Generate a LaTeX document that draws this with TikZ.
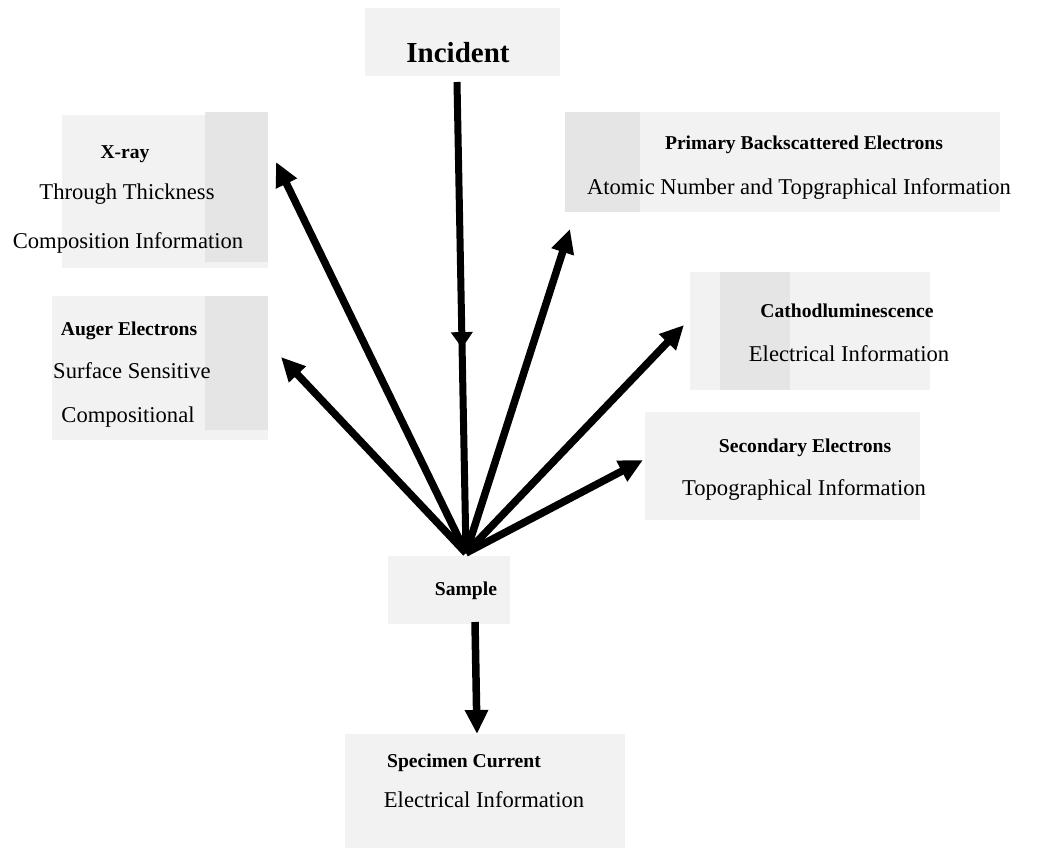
\documentclass[tikz,border=0pt]{standalone}
\usepackage{fontspec}
\setmainfont{Liberation Serif}
\usetikzlibrary{arrows.meta,decorations.markings}
\begin{document}
\begin{tikzpicture}[x=1pt,y=-1pt,
  big/.style={font=\fontsize{29}{32}\selectfont\bfseries, anchor=base, inner sep=0pt},
  head/.style={font=\fontsize{19.6}{22}\selectfont\bfseries, anchor=base, inner sep=0pt},
  txt/.style={font=\fontsize{22.6}{25}\selectfont, anchor=base, inner sep=0pt},
  patch/.style={fill=black!5, draw=none},
  dpatch/.style={fill=black!10, draw=none},
  ray/.style={line width=7.5pt, -{Triangle[length=24pt,width=22pt]}},
  ]
\useasboundingbox (0,0) rectangle (1038,850);
% shaded backgrounds
\fill[patch] (365,8) rectangle (560,76);
\fill[patch] (62,115) rectangle (268,268);
\fill[dpatch] (205,112) rectangle (268,262);
\fill[patch] (52,296) rectangle (268,440);
\fill[dpatch] (205,296) rectangle (268,430);
\fill[patch] (565,112) rectangle (1000,212);
\fill[dpatch] (565,112) rectangle (640,212);
\fill[patch] (690,272) rectangle (930,390);
\fill[dpatch] (720,272) rectangle (790,390);
\fill[patch] (645,412) rectangle (920,520);
\fill[patch] (388,556) rectangle (510,624);
\fill[patch] (345,734) rectangle (625,848);
% texts
\node[big]  (inc)   at (458,63)  {Incident};
\node[head] (xr1)   at (125,159) {X-ray};
\node[txt]  (xr2)   at (127,200) {Through Thickness};
\node[txt]  (xr3)   at (128,248) {Composition Information};
\node[head] (au1)   at (129,335) {Auger Electrons};
\node[txt]  (au2)   at (132,378) {Surface Sensitive};
\node[txt]  (au3)   at (128,422) {Compositional};
\node[head] (pb1)   at (804,150) {Primary Backscattered Electrons};
\node[txt]  (pb2)   at (799,195) {Atomic Number and Topgraphical Information};
\node[head] (ca1)   at (847,317) {Cathodluminescence};
\node[txt]  (ca2)   at (849,361) {Electrical Information};
\node[head] (se1)   at (805,452) {Secondary Electrons};
\node[txt]  (se2)   at (804,495) {Topographical Information};
\node[head] (smp)   at (466,595) {Sample};
\node[head] (sp1)   at (464,767) {Specimen Current};
\node[txt]  (sp2)   at (484,807) {Electrical Information};
% points
\coordinate (S)   at (466,553);
\coordinate (inctop) at (457,82);
\coordinate (xrt) at (276,162);
\coordinate (aut) at (281,357);
\coordinate (pbt) at (570,229);
\coordinate (cat) at (684,325);
\coordinate (set) at (643,460);
\coordinate (sps) at (475,622);
\coordinate (spt) at (477,734);
% incident beam
\draw[line width=7pt, postaction={decorate, decoration={markings,
   mark=at position 0.565 with {\arrow{Triangle[length=16pt,width=21pt]}}}}]
   (inctop) -- (S);
% emitted signals
\draw[ray] (S) -- (xrt);
\draw[ray] (S) -- (aut);
\draw[ray] (S) -- (pbt);
\draw[ray] (S) -- (cat);
\draw[ray] (S) -- (set);
\draw[ray] (sps) -- (spt);
\end{tikzpicture}
\end{document}
